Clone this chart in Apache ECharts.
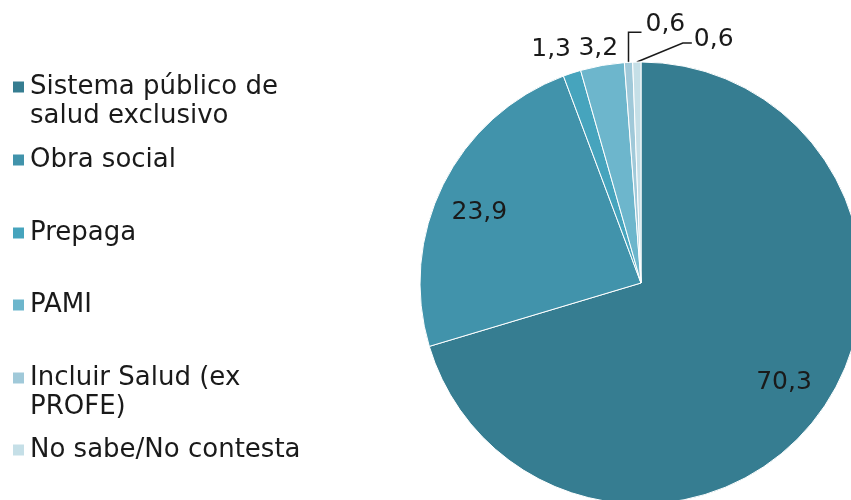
<!DOCTYPE html>
<html><head><meta charset="utf-8">
<script src="https://cdn.jsdelivr.net/npm/echarts@6/dist/echarts.min.js"></script>
<style>html,body{margin:0;padding:0;background:#fff}#c{width:851px;height:500px}</style>
</head><body><div id="c"></div>
<script>
const categories = ['Sistema público de salud exclusivo','Obra social','Prepaga','PAMI','Incluir Salud (ex PROFE)','No sabe/No contesta'];
const legendLabels = ['Sistema público de\nsalud exclusivo','Obra social','Prepaga','PAMI','Incluir Salud (ex\nPROFE)','No sabe/No contesta'];
const values = [70.3, 23.9, 1.3, 3.2, 0.6, 0.6];
const valueLabels = ['70,3','23,9','1,3','3,2','0,6','0,6'];
const colors = ['#367d91','#4193ab','#46a4bd','#6db6cc','#a0c9d9','#c5dfe7'];

const FONT = 'DejaVu Sans';
const TXT = '#1a1a1a';
const legendTops = [43.5, 145.5, 218.5, 290.5, 334.5, 435.5];

const legends = categories.map((c, i) => {
  const twoLine = legendLabels[i].indexOf('\n') >= 0;
  return {
    data: [c], left: 11, top: legendTops[i], padding: 0, orient: 'vertical',
    itemWidth: 13, itemHeight: 13, icon: 'rect',
    formatter: () => (twoLine ? '\n' : '') + legendLabels[i],
    textStyle: { fontFamily: FONT, fontSize: 26, color: TXT, lineHeight: 29 }
  };
});

const chart = echarts.init(document.getElementById('c'), null, {renderer: 'canvas'});
chart.setOption({
  animation: false,
  color: colors,
  legend: legends,
  series: [{
    type: 'pie', center: [641, 283], radius: 221, startAngle: 90, clockwise: true,
    avoidLabelOverlap: false,
    itemStyle: { borderColor: '#fff', borderWidth: 1 },
    label: { fontFamily: FONT, fontSize: 25, color: TXT, formatter: p => valueLabels[p.dataIndex] },
    labelLine: { show: true, length: 10, length2: 0, smooth: false, lineStyle: { color: TXT, width: 1.5 } },
    emphasis: { disabled: true },
    data: categories.map((c, i) => {
      const d = { name: c, value: values[i] };
      if (i < 2) { d.label = { position: 'inside' }; d.labelLine = { show: false }; }
      else { d.label = { position: 'outside' }; if (i < 4) d.labelLine = { show: true, lineStyle: { opacity: 0 } }; }
      return d;
    }),
    labelLayout: function (p) {
      const i = p.dataIndex;
      if (i === 0) return { dx: 52, dy: 32 };
      if (i === 1) return { dx: -60, dy: -20 };
      const pts = p.labelLinePoints;
      if (!pts) return {};
      const x0 = pts[0][0], y0 = pts[0][1];
      if (i === 2) return { x: x0 - 1, y: y0 - 24, align: 'right', verticalAlign: 'middle' };
      if (i === 3) return { x: x0 - 4, y: y0 - 17, align: 'center', verticalAlign: 'middle' };
      if (i === 4) return { x: x0 + 17, y: y0 - 38, align: 'left', verticalAlign: 'middle',
        labelLinePoints: [[x0, y0], [x0, y0 - 30], [x0 + 13, y0 - 30]] };
      if (i === 5) return { x: x0 + 57, y: y0 - 23, align: 'left', verticalAlign: 'middle',
        labelLinePoints: [[x0, y0], [x0 + 46, y0 - 19], [x0 + 55, y0 - 19]] };
      return {};
    }
  }]
});
</script></body></html>
